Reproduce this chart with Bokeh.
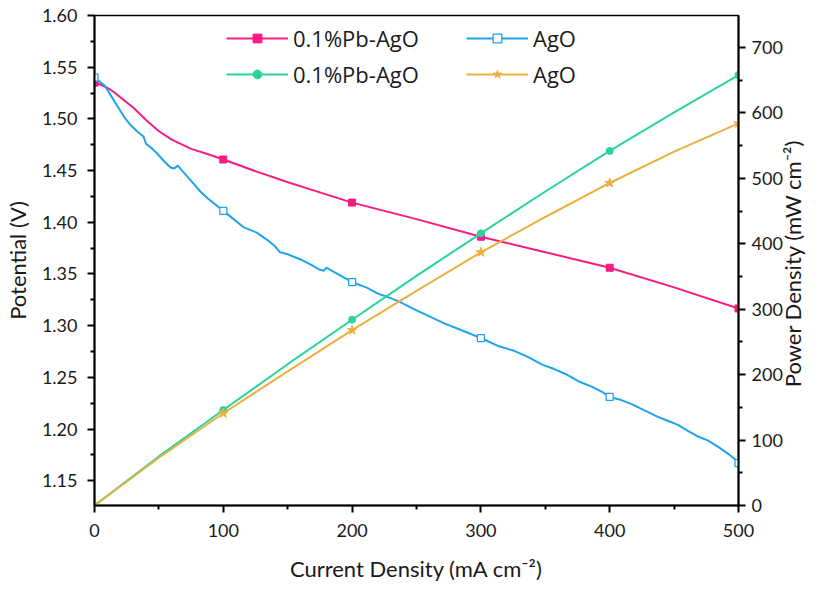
import math
from bokeh.plotting import figure
from bokeh.models import Range1d, LinearAxis, Legend, LegendItem, FixedTicker, PrintfTickFormatter
from bokeh.embed import file_html
from bokeh.resources import INLINE

# ---- data ----
pb_current = [0, 5, 10, 15, 20, 30, 40, 50, 60, 75, 90, 100, 126, 152, 167, 200, 250, 300, 350, 400, 450, 500]
pb_potential = [1.535, 1.533, 1.530, 1.526, 1.521, 1.511, 1.499, 1.488, 1.480, 1.471, 1.465, 1.4607, 1.449,
                1.438, 1.432, 1.419, 1.403, 1.386, 1.371, 1.356, 1.337, 1.3166]

ago_current = [0, 3, 8, 13, 18, 23, 28, 33, 38, 40, 45, 49, 54, 59, 62, 64.6, 68, 75, 82, 88, 95, 100,
               108, 116, 126, 134, 140, 144, 150, 160, 168, 175, 178, 180, 190, 200, 211, 220, 227, 237,
               248, 260, 272, 286, 300, 314, 325, 336, 348, 357, 366, 376, 386, 394, 400, 409, 417, 427,
               437, 445, 453, 461, 468, 476, 484, 492, 498, 500]
ago_potential = [1.540, 1.537, 1.532, 1.522, 1.512, 1.502, 1.494, 1.488, 1.483, 1.476, 1.471, 1.466, 1.459,
                 1.453, 1.452, 1.455, 1.450, 1.440, 1.430, 1.423, 1.416, 1.411, 1.403, 1.395, 1.390, 1.383,
                 1.377, 1.371, 1.369, 1.364, 1.359, 1.354, 1.353, 1.356, 1.349, 1.342, 1.337, 1.331, 1.328,
                 1.323, 1.316, 1.309, 1.302, 1.295, 1.288, 1.280, 1.276, 1.270, 1.262, 1.258, 1.253, 1.246,
                 1.241, 1.236, 1.231, 1.228, 1.224, 1.218, 1.212, 1.208, 1.204, 1.198, 1.193, 1.189, 1.183,
                 1.176, 1.170, 1.167]

power_current = [0, 50, 100, 150, 200, 250, 300, 350, 400, 450, 500]
pb_power = [0, 75, 146, 216, 284, 351, 416, 480, 542, 601, 658]
ago_power = [0, 73, 141, 205, 268, 328, 387, 441, 493, 541, 584]

x_ticks = [0, 100, 200, 300, 400, 500]
y_ticks = [1.15, 1.20, 1.25, 1.30, 1.35, 1.40, 1.45, 1.50, 1.55, 1.60]
p_ticks = [0, 100, 200, 300, 400, 500, 600, 700]
labels = ["0.1%Pb-AgO", "AgO", "0.1%Pb-AgO", "AgO"]

PINK = "#FA1A84"
BLUE = "#1EA4EE"
GREEN = "#2AD497"
YELLOW = "#EBB03F"
FONT = "Lato"
LFONT = "Open Sans"
TXT = "#1a1a1a"


def marks(xs, ys):
    sel = [(x, y) for x, y in zip(xs, ys) if x in x_ticks]
    return [s[0] for s in sel], [s[1] for s in sel]


p = figure(width=822, height=588, output_backend="svg", toolbar_location=None,
           x_range=Range1d(0, 500), y_range=Range1d(1.126, 1.600),
           min_border_left=93, min_border_right=81, min_border_top=15, min_border_bottom=83)
p.extra_y_ranges = {"power": Range1d(0, 749)}
p.xgrid.visible = False
p.ygrid.visible = False
p.outline_line_color = "black"
p.outline_line_width = 1.5
p.background_fill_color = "white"
p.border_fill_color = "white"

r_pb_line = p.line(pb_current, pb_potential, line_color=PINK, line_width=2)
mx, my = marks(pb_current, pb_potential)
r_pb_mk = p.scatter(mx, my, marker="square", size=7, fill_color=PINK, line_color=PINK)

r_ago_line = p.line(ago_current, ago_potential, line_color=BLUE, line_width=2)
mx, my = marks(ago_current, ago_potential)
r_ago_mk = p.scatter(mx, my, marker="square", size=7, fill_color="white", line_color=BLUE, line_width=1.3)

r_pbp_line = p.line(power_current, pb_power, line_color=GREEN, line_width=2, y_range_name="power")
mx, my = marks(power_current, pb_power)
r_pbp_mk = p.scatter(mx, my, marker="circle", size=7, fill_color=GREEN, line_color=GREEN, y_range_name="power")

r_agop_line = p.line(power_current, ago_power, line_color=YELLOW, line_width=2, y_range_name="power")
mx, my = marks(power_current, ago_power)
r_agop_mk = p.scatter(mx, my, marker="star", size=10, fill_color=YELLOW, line_color=YELLOW, y_range_name="power")


def style_axis(ax, label):
    ax.axis_label = label
    ax.axis_label_text_font = FONT
    ax.axis_label_text_font_size = "22px"
    ax.axis_label_text_font_style = "normal"
    ax.axis_label_text_color = TXT
    ax.major_label_text_font = FONT
    ax.major_label_text_font_size = "18px"
    ax.major_label_text_color = TXT
    ax.axis_line_width = 2
    ax.axis_line_color = "black"
    ax.major_tick_line_width = 2
    ax.minor_tick_line_width = 2
    ax.major_tick_out = 7
    ax.major_tick_in = 0
    ax.minor_tick_out = 4
    ax.minor_tick_in = 0


p.xaxis.ticker = FixedTicker(ticks=x_ticks, minor_ticks=[50, 150, 250, 350, 450])
p.yaxis.ticker = FixedTicker(ticks=y_ticks, minor_ticks=[1.125, 1.175, 1.225, 1.275, 1.325, 1.375, 1.425, 1.475, 1.525, 1.575])
style_axis(p.xaxis[0], "Current Density (mA cm\u207b\u00b2)")
p.xaxis[0].major_label_standoff = 11
p.xaxis[0].axis_label_standoff = 15
style_axis(p.yaxis[0], "Potential (V)")
p.yaxis[0].formatter = PrintfTickFormatter(format="%.2f")
p.yaxis[0].major_label_standoff = 10
p.yaxis[0].axis_label_standoff = 8

right_label = "Power Density (mW cm\u207b\u00b2)"
right = LinearAxis(y_range_name="power",
                   ticker=FixedTicker(ticks=p_ticks, minor_ticks=[50, 150, 250, 350, 450, 550, 650]))
style_axis(right, right_label)
right.major_label_standoff = 6
right.axis_label_standoff = 7
props = right.properties()
if "axis_label_orientation" in props and "axis_label_align" in props:
    right.axis_label_orientation = math.pi / 2
    right.axis_label_align = "start"
    right.axis_label = "\u00a0" * 21 + right_label
elif "axis_label_orientation" in props:
    right.axis_label_orientation = "vertical"
p.add_layout(right, "right")

leg1 = Legend(items=[LegendItem(label=labels[0], renderers=[r_pb_line, r_pb_mk]),
                     LegendItem(label=labels[2], renderers=[r_pbp_line, r_pbp_mk])],
              location=(132, 416))
leg2 = Legend(items=[LegendItem(label=labels[1], renderers=[r_ago_line, r_ago_mk]),
                     LegendItem(label=labels[3], renderers=[r_agop_line, r_agop_mk])],
              location=(372, 416))
for lg in (leg1, leg2):
    lg.label_text_font = LFONT
    lg.label_text_font_size = "22px"
    lg.label_text_color = TXT
    lg.glyph_width = 62
    lg.glyph_height = 22
    lg.label_standoff = 5
    lg.spacing = 6
    lg.padding = 0
    lg.margin = 0
    lg.border_line_color = None
    lg.background_fill_alpha = 0
    p.add_layout(lg)

open("out.html", "w").write(file_html(p, INLINE))
